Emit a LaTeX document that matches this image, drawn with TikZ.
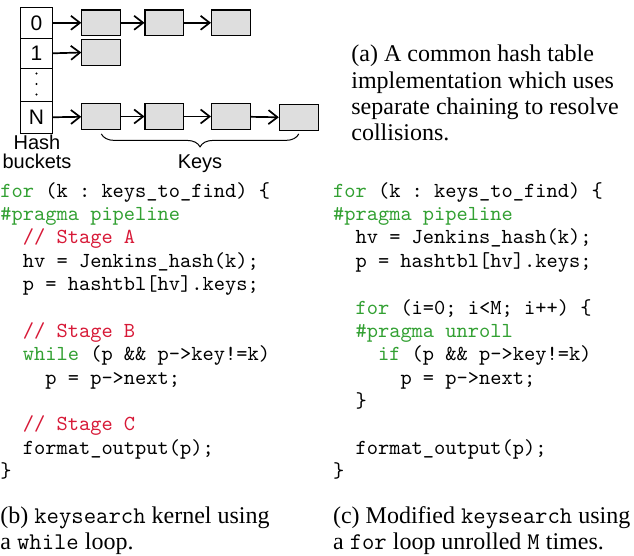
\documentclass[tikz,border=0pt]{standalone}
\usepackage{fontspec}
\setmainfont{Liberation Serif}
\setsansfont{Liberation Sans}
\setmonofont{Latin Modern Mono}
\usetikzlibrary{arrows.meta,decorations.pathreplacing}
\definecolor{codegreen}{RGB}{50,160,50}
\definecolor{codered}{RGB}{215,25,55}
\tikzset{
  bucket/.style={draw,line width=0.6pt,minimum width=15.8pt,inner sep=0pt,font=\sffamily\fontsize{10.5}{12}\selectfont},
  key/.style={draw,line width=0.6pt,fill=black!13,minimum width=19.4pt,minimum height=12.8pt,inner sep=0pt},
  link/.style={line width=0.85pt,-{Straight Barb[length=4.5pt,width=7pt]}},
  label/.style={anchor=base,align=center,inner sep=0pt,font=\sffamily\fontsize{10}{9.6}\selectfont},
  code/.style={anchor=base west,align=left,inner sep=0pt,font=\ttfamily\fontsize{10.7}{11.7}\selectfont},
  caption/.style={anchor=base west,align=left,inner sep=0pt,font=\rmfamily\fontsize{12}{13.2}\selectfont}
}
\providecommand{\Key}[2]{
\node[key] (#1) at (#2) {};
}
\providecommand{\kw}[1]{\textcolor{codegreen}{#1}}
\providecommand{\cm}[1]{\textcolor{codered}{#1}}

\begin{document}
\begin{tikzpicture}[x=0.5pt,y=-0.5pt]
\useasboundingbox (0,0) rectangle (634,556);
% hash buckets
\node[bucket,minimum height=15.5pt] (b0) at (36.5,22.8) {0};
\node[bucket,minimum height=15pt] (b1) at (36.5,53.3) {1};
\node[bucket,minimum height=16.7pt] (bd) at (36.5,85) {};
\node[bucket,minimum height=15.8pt] (bN) at (36.5,117.5) {N};
\foreach \y in {73.5,84,94.5} \fill (36.5,\y) circle[radius=0.6pt];
% keys
\Key{k00}{101.3,22.8}\Key{k01}{164.5,22.8}\Key{k02}{231,22.8}
\Key{k10}{101.3,52.5}
\Key{kN0}{101.3,116.5}\Key{kN1}{164.5,116.5}\Key{kN2}{231,116.5}\Key{kN3}{298.8,117.6}
\draw[link] (b0) -- (k00);
\draw[link] (k00) -- (k01);
\draw[link] (k01) -- (k02);
\draw[link] (b1.east) -- (k10.west);
\draw[link] (bN) -- (kN0);
\draw[link] (kN0) -- (kN1);
\draw[link] (kN1) -- (kN2);
\draw[link] (kN2) -- (kN3);
\draw[line width=0.5pt,decorate,decoration={brace,mirror,amplitude=6.5pt}]
  ([yshift=-2pt]kN0.south) -- ([yshift=-2pt]kN0.south -| kN3.south);
\node[label] (hb) at (37,169) {Hash\\buckets};
\node[label] (keys) at (200,168.3) {Keys};
\node[caption] (capA) at (351,141) {(a) A common hash table\\implementation which uses\\separate chaining to resolve\\collisions.};
% code
\node[code] (codeB) at (0,477.8) {\kw{for} (k : keys\_to\_find) \{\\
\kw{\#pragma pipeline}\\
\ \ \cm{// Stage A}\\
\ \ hv = Jenkins\_hash(k);\\
\ \ p = hashtbl[hv].keys;\\
\ \\
\ \ \cm{// Stage B}\\
\ \ \kw{while} (p \&\& p->key!=k)\\
\ \ \ \ p = p->next;\\
\ \\
\ \ \cm{// Stage C}\\
\ \ format\_output(p);\\
\}};
\node[code] (codeC) at (332.7,477.8) {\kw{for} (k : keys\_to\_find) \{\\
\kw{\#pragma pipeline}\\
\ \ hv = Jenkins\_hash(k);\\
\ \ p = hashtbl[hv].keys;\\
\ \\
\ \ \kw{for} (i=0; i<M; i++) \{\\
\ \ \kw{\#pragma unroll}\\
\ \ \ \ \kw{if} (p \&\& p->key!=k)\\
\ \ \ \ \ \ p = p->next;\\
\ \ \}\\
\ \\
\ \ format\_output(p);\\
\}};
\node[caption] (capB) at (0,550) {(b) \texttt{keysearch} kernel using\\a \texttt{while} loop.};
\node[caption] (capC) at (332.7,550) {(c) Modified \texttt{keysearch} using\\a \texttt{for} loop unrolled \texttt{M} times.};
\end{tikzpicture}
\end{document}
